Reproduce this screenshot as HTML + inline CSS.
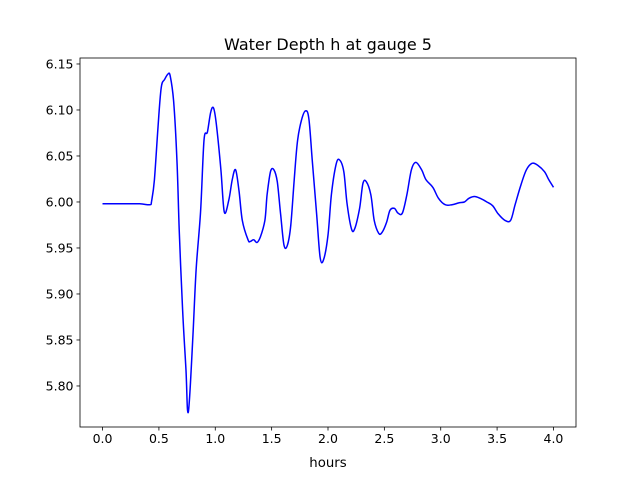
<!DOCTYPE html>
<html><head><meta charset="utf-8"><style>
body{margin:0;background:#fff;}
svg{display:block;font-family:"DejaVu Sans","Liberation Sans",sans-serif;}
</style></head><body>
<svg id="chart" width="640" height="480">
<rect x="0" y="0" width="640" height="480" fill="#fff"/>
<text x="328" y="50" text-anchor="middle" font-size="16">Water Depth h at gauge 5</text>
<g id="plot"></g>
<text x="328" y="467" text-anchor="middle" font-size="13.3">hours</text>
</svg>
<script>
const hours=[0,0.15,0.33,0.42,0.435,0.46,0.49,0.52,0.55,0.58,0.60,0.63,0.66,0.68,0.71,0.74,0.754,0.77,0.80,0.83,0.87,0.90,0.93,0.96,0.985,1.01,1.05,1.08,1.12,1.15,1.18,1.21,1.24,1.29,1.31,1.34,1.37,1.40,1.44,1.46,1.49,1.52,1.55,1.58,1.61,1.64,1.67,1.70,1.73,1.765,1.80,1.83,1.86,1.90,1.93,1.96,2.0,2.03,2.07,2.10,2.14,2.17,2.21,2.24,2.28,2.31,2.34,2.38,2.41,2.45,2.48,2.52,2.55,2.59,2.62,2.66,2.70,2.74,2.78,2.83,2.87,2.93,2.98,3.04,3.10,3.16,3.21,3.25,3.30,3.35,3.41,3.46,3.51,3.57,3.62,3.66,3.71,3.76,3.81,3.86,3.92,3.96,4.0];
const depth=[5.998,5.998,5.998,5.997,6.001,6.024,6.078,6.124,6.133,6.139,6.137,6.11,6.046,5.97,5.883,5.817,5.774,5.783,5.85,5.926,5.99,6.067,6.076,6.098,6.102,6.084,6.035,5.989,6.002,6.024,6.035,6.013,5.98,5.959,5.957,5.959,5.956,5.962,5.98,6.008,6.033,6.035,6.022,5.986,5.953,5.953,5.975,6.024,6.067,6.089,6.099,6.091,6.046,5.986,5.94,5.937,5.964,6.008,6.04,6.046,6.033,5.997,5.97,5.972,5.993,6.02,6.022,6.008,5.98,5.966,5.967,5.978,5.991,5.993,5.988,5.988,6.008,6.035,6.043,6.035,6.024,6.016,6.004,5.997,5.997,5.999,6.0,6.004,6.006,6.004,6.0,5.996,5.987,5.98,5.98,5.997,6.018,6.035,6.042,6.04,6.033,6.024,6.016];
const xTicks=[0,0.5,1,1.5,2,2.5,3,3.5,4];
const xTickLabels=["0.0","0.5","1.0","1.5","2.0","2.5","3.0","3.5","4.0"];
const yTicks=[5.80,5.85,5.90,5.95,6.00,6.05,6.10,6.15];
const yTickLabels=["5.80","5.85","5.90","5.95","6.00","6.05","6.10","6.15"];
const L=80,R=576,T=58,B=427;
const X0=-0.2,X1=4.2,Y0=5.7554,Y1=6.1565;
const sx=v=>L+(v-X0)/(X1-X0)*(R-L);
const sy=v=>B-(v-Y0)/(Y1-Y0)*(B-T);
const NS="http://www.w3.org/2000/svg";
const g=document.getElementById('plot');
function mk(t,a){const e=document.createElementNS(NS,t);for(const k in a)e.setAttribute(k,a[k]);g.appendChild(e);return e;}
const P=hours.map((h,i)=>[sx(h),sy(depth[i])]);
let d='M'+P[0][0].toFixed(1)+','+P[0][1].toFixed(1);
for(let i=0;i<P.length-1;i++){
  const p0=P[Math.max(i-1,0)],p1=P[i],p2=P[i+1],p3=P[Math.min(i+2,P.length-1)];
  const c1=[p1[0]+(p2[0]-p0[0])/6,p1[1]+(p2[1]-p0[1])/6];
  const c2=[p2[0]-(p3[0]-p1[0])/6,p2[1]-(p3[1]-p1[1])/6];
  d+=' C'+c1.map(v=>v.toFixed(1)).join(',')+' '+c2.map(v=>v.toFixed(1)).join(',')+' '+p2.map(v=>v.toFixed(1)).join(',');
}
const line=mk('path',{d:d,fill:'none',stroke:'#0000ff','stroke-width':1.5,'stroke-linejoin':'round'});


const frame=mk('rect',{x:L,y:T,width:R-L,height:B-T,fill:'none',stroke:'#000','stroke-width':0.8});


xTicks.forEach((v,i)=>{
  const t=mk('line',{x1:sx(v),x2:sx(v),y1:B,y2:B+3.5,stroke:'#000','stroke-width':0.8});
  
  
  const l=mk('text',{x:sx(v),y:B+16,'text-anchor':'middle','font-size':12.5});
  l.textContent=xTickLabels[i];
  
  
});
yTicks.forEach((v,i)=>{
  const t=mk('line',{x1:L-3.5,x2:L,y1:sy(v),y2:sy(v),stroke:'#000','stroke-width':0.8});
  
  
  const l=mk('text',{x:L-6.5,y:sy(v)+4.5,'text-anchor':'end','font-size':12.5});
  l.textContent=yTickLabels[i];
  
  
});
</script>
</body></html>
